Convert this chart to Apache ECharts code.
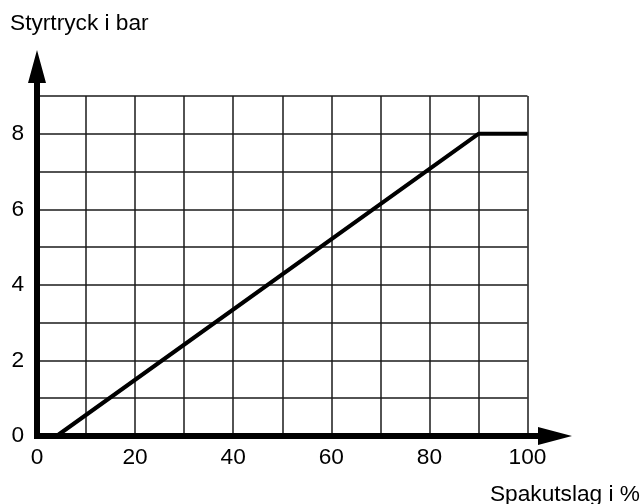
<!DOCTYPE html>
<html>
<head>
<meta charset="utf-8">
<style>
  html, body { margin: 0; padding: 0; background: #fff; }
  #chart { width: 643px; height: 504px; }
</style>
<script src="https://cdn.jsdelivr.net/npm/echarts@6/dist/echarts.min.js"></script>
</head>
<body>
<div id="chart"></div>
<script>
// curve points: lever travel (%) -> control pressure (bar)
const strokePercent = [4, 90, 100];
const pressureBar = [0, 8, 8];

// which ticks get a label
const xTickLabels = [0, 20, 40, 60, 80, 100];
const yTickLabels = [0, 2, 4, 6, 8];

const fontFamily = "'Liberation Sans', Arial, Helvetica, sans-serif";

// axis arrows: path points up, stem continues the thick axis line
const yArrow = "path://M9,0 L18,33 L12,33 L12,92 L6,92 L6,33 L0,33 Z";
const xArrow = "path://M9,0 L18,34 L12,34 L12,89 L6,89 L6,34 L0,34 Z";

const chart = echarts.init(document.getElementById("chart"));

chart.setOption({
  animation: false,
  backgroundColor: "#fff",
  title: [
    {
      text: "Styrtryck i bar",
      left: 10,
      top: 12,
      padding: 0,
      textStyle: { fontFamily, fontSize: 22.7, fontWeight: "normal", color: "#000" }
    },
    {
      text: "Spakutslag i %",
      right: 3,
      top: 483,
      padding: 0,
      textStyle: { fontFamily, fontSize: 22.7, fontWeight: "normal", color: "#000" }
    }
  ],
  grid: { left: 37, right: 115.5, top: 96, bottom: 68, containLabel: false },
  xAxis: {
    type: "value",
    min: 0,
    max: 100,
    interval: 10,
    axisLine: {
      show: true,
      symbol: ["none", xArrow],
      symbolSize: [18, 89],
      lineStyle: { color: "#000", width: 6, cap: "square" }
    },
    axisTick: { show: false },
    axisLabel: {
      margin: 10,
      color: "#000",
      fontFamily,
      fontSize: 22.7,
      formatter: (v) => (xTickLabels.includes(v) ? String(v) : "")
    },
    splitLine: { show: true, lineStyle: { color: "#1a1a1a", width: 1.5 } }
  },
  yAxis: {
    type: "value",
    min: 0,
    max: 9,
    interval: 1,
    axisLine: {
      show: true,
      symbol: ["none", yArrow],
      symbolSize: [18, 92],
      lineStyle: { color: "#000", width: 6, cap: "square" }
    },
    axisTick: { show: false },
    axisLabel: {
      margin: 13,
      color: "#000",
      fontFamily,
      fontSize: 22.7,
      formatter: (v) => (yTickLabels.includes(v) ? String(v) : "")
    },
    splitLine: { show: true, lineStyle: { color: "#1a1a1a", width: 1.5 } }
  },
  series: [
    {
      type: "line",
      data: strokePercent.map((x, i) => [x, pressureBar[i]]),
      showSymbol: false,
      lineStyle: { color: "#000", width: 4 },
      z: 5
    }
  ]
});
</script>
</body>
</html>
